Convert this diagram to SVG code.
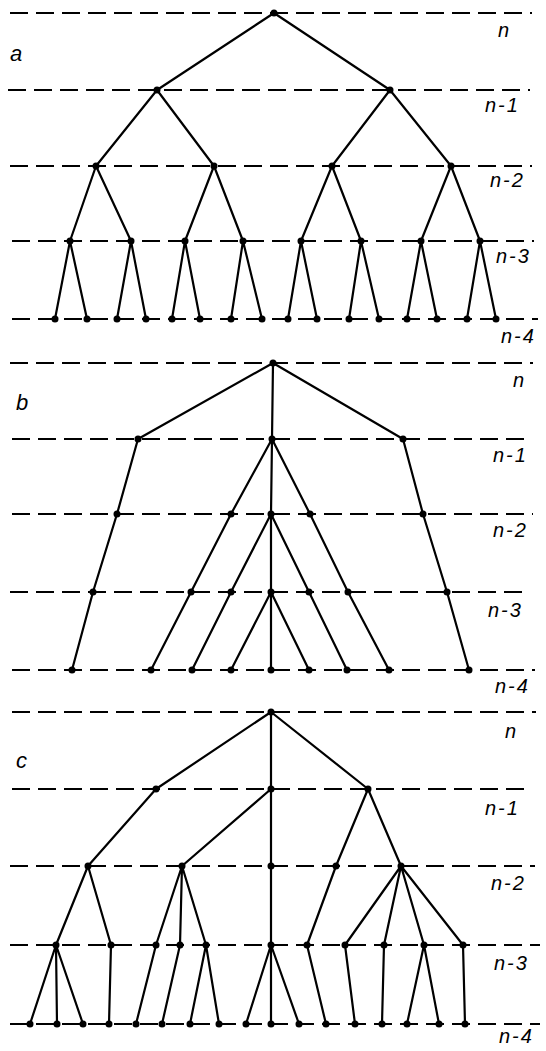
<svg xmlns="http://www.w3.org/2000/svg" width="546" height="1051" viewBox="0 0 546 1051">
<style>
.lvl{stroke:#000;stroke-width:1.8;stroke-dasharray:18 8;fill:none}
.e{stroke:#000;stroke-width:2.2;fill:none;stroke-linecap:round}
.lb{font-family:"Liberation Sans",Arial,sans-serif;font-style:italic;font-size:20px;letter-spacing:2px;fill:#000}
.pl{font-family:"Liberation Sans",Arial,sans-serif;font-style:italic;font-size:22px;fill:#000}
</style>
<defs><circle id="dot" r="3.5"/></defs>
<rect width="546" height="1051" fill="#fff"/>
<g id="levels">
<line class="lvl" x1="10" y1="13" x2="532" y2="13"/>
<line class="lvl" x1="8" y1="90" x2="530" y2="90"/>
<line class="lvl" x1="10" y1="166" x2="532" y2="166"/>
<line class="lvl" x1="12" y1="241" x2="534" y2="241"/>
<line class="lvl" x1="12" y1="319" x2="538" y2="319"/>
<line class="lvl" x1="10" y1="363" x2="533" y2="363"/>
<line class="lvl" x1="12" y1="439" x2="532" y2="439"/>
<line class="lvl" x1="12" y1="514" x2="533" y2="514"/>
<line class="lvl" x1="10" y1="592" x2="530" y2="592"/>
<line class="lvl" x1="12" y1="670" x2="535" y2="670"/>
<line class="lvl" x1="12" y1="712" x2="536" y2="712"/>
<line class="lvl" x1="12" y1="789" x2="531" y2="789"/>
<line class="lvl" x1="10" y1="866" x2="535" y2="866"/>
<line class="lvl" x1="10" y1="945" x2="540" y2="945"/>
<line class="lvl" x1="10" y1="1024" x2="540" y2="1024"/>
</g>
<g id="labels">
<text class="pl" x="10" y="61">a</text>
<text class="lb" x="498" y="37">n</text>
<text class="lb" x="485" y="112">n-1</text>
<text class="lb" x="490" y="187">n-2</text>
<text class="lb" x="496" y="263">n-3</text>
<text class="lb" x="501" y="343">n-4</text>
<text class="pl" x="16" y="410">b</text>
<text class="lb" x="513" y="387">n</text>
<text class="lb" x="493" y="462">n-1</text>
<text class="lb" x="493" y="537">n-2</text>
<text class="lb" x="488" y="617">n-3</text>
<text class="lb" x="495" y="693">n-4</text>
<text class="pl" x="16" y="768">c</text>
<text class="lb" x="505" y="738">n</text>
<text class="lb" x="485" y="815">n-1</text>
<text class="lb" x="491" y="890">n-2</text>
<text class="lb" x="494" y="970">n-3</text>
<text class="lb" x="499" y="1043">n-4</text>
</g>
<g id="connectors">
<path class="e" d="M274 13L157 90M274 13L390 90
M157 90L96 166M157 90L214 166M390 90L332 166M390 90L451 166
M96 166L70 241M96 166L131 241M214 166L185 241M214 166L243 241M332 166L301 241M332 166L361 241M451 166L421 241M451 166L480 241
M70 241L55 319M70 241L87 319M131 241L117 319M131 241L146 319M185 241L172 319M185 241L200 319M243 241L231 319M243 241L262 319
M301 241L288 319M301 241L317 319M361 241L349 319M361 241L379 319M421 241L407 319M421 241L437 319M480 241L467 319M480 241L496 319"/>
<path class="e" d="M273 363L138 439M273 363L272 439M273 363L403 439
M138 439L117 514L93 592L72 670
M403 439L423 514L447 592L469 670
M272 439L231 514L191 592L151 670
M272 439L310 514L348 592L389 670
M272 439L271 514L271 592L271 670
M271 514L231 592L192 670
M271 514L309 592L347 670
M271 592L231 670M271 592L309 670"/>
<path class="e" d="M271 712L156 789M271 712L271 789M271 712L368 789
M156 789L88 866M271 789L182 866M271 789L271 866M368 789L336 866M368 789L401 866
M88 866L56 945M88 866L111 945
M56 945L30 1024M56 945L57 1024M56 945L83 1024M111 945L109 1024
M182 866L156 945M182 866L180 945M182 866L206 945
M156 945L136 1024M180 945L162 1024M206 945L190 1024M206 945L219 1024
M271 866L271 945M271 945L246 1024M271 945L271 1024M271 945L299 1024
M336 866L307 945M307 945L326 1024
M401 866L345 945M401 866L384 945M401 866L424 945M401 866L463 945
M345 945L355 1024M384 945L382 1024M424 945L407 1024M424 945L439 1024M463 945L465 1024"/>
</g>
<g id="nodes">
<g id="a-0"><use href="#dot" x="274" y="13"/></g>
<g id="a-1-1"><use href="#dot" x="157" y="90"/></g>
<g id="a-1-2"><use href="#dot" x="390" y="90"/></g>
<g id="a-2-1"><use href="#dot" x="96" y="166"/></g>
<g id="a-2-2"><use href="#dot" x="214" y="166"/></g>
<g id="a-2-3"><use href="#dot" x="332" y="166"/></g>
<g id="a-2-4"><use href="#dot" x="451" y="166"/></g>
<g id="a-3-1"><use href="#dot" x="70" y="241"/></g>
<g id="a-3-2"><use href="#dot" x="131" y="241"/></g>
<g id="a-3-3"><use href="#dot" x="185" y="241"/></g>
<g id="a-3-4"><use href="#dot" x="243" y="241"/></g>
<g id="a-3-5"><use href="#dot" x="301" y="241"/></g>
<g id="a-3-6"><use href="#dot" x="361" y="241"/></g>
<g id="a-3-7"><use href="#dot" x="421" y="241"/></g>
<g id="a-3-8"><use href="#dot" x="480" y="241"/></g>
<g id="a-4-1"><use href="#dot" x="55" y="319"/></g>
<g id="a-4-2"><use href="#dot" x="87" y="319"/></g>
<g id="a-4-3"><use href="#dot" x="117" y="319"/></g>
<g id="a-4-4"><use href="#dot" x="146" y="319"/></g>
<g id="a-4-5"><use href="#dot" x="172" y="319"/></g>
<g id="a-4-6"><use href="#dot" x="200" y="319"/></g>
<g id="a-4-7"><use href="#dot" x="231" y="319"/></g>
<g id="a-4-8"><use href="#dot" x="262" y="319"/></g>
<g id="a-4-9"><use href="#dot" x="288" y="319"/></g>
<g id="a-4-10"><use href="#dot" x="317" y="319"/></g>
<g id="a-4-11"><use href="#dot" x="349" y="319"/></g>
<g id="a-4-12"><use href="#dot" x="379" y="319"/></g>
<g id="a-4-13"><use href="#dot" x="407" y="319"/></g>
<g id="a-4-14"><use href="#dot" x="437" y="319"/></g>
<g id="a-4-15"><use href="#dot" x="467" y="319"/></g>
<g id="a-4-16"><use href="#dot" x="496" y="319"/></g>

<g id="b-0"><use href="#dot" x="273" y="363"/></g>
<g id="b-1-1"><use href="#dot" x="138" y="439"/></g>
<g id="b-1-2"><use href="#dot" x="272" y="439"/></g>
<g id="b-1-3"><use href="#dot" x="403" y="439"/></g>
<g id="b-2-1"><use href="#dot" x="117" y="514"/></g>
<g id="b-2-2"><use href="#dot" x="231" y="514"/></g>
<g id="b-2-3"><use href="#dot" x="271" y="514"/></g>
<g id="b-2-4"><use href="#dot" x="310" y="514"/></g>
<g id="b-2-5"><use href="#dot" x="423" y="514"/></g>
<g id="b-3-1"><use href="#dot" x="93" y="592"/></g>
<g id="b-3-2"><use href="#dot" x="191" y="592"/></g>
<g id="b-3-3"><use href="#dot" x="231" y="592"/></g>
<g id="b-3-4"><use href="#dot" x="271" y="592"/></g>
<g id="b-3-5"><use href="#dot" x="309" y="592"/></g>
<g id="b-3-6"><use href="#dot" x="348" y="592"/></g>
<g id="b-3-7"><use href="#dot" x="447" y="592"/></g>
<g id="b-4-1"><use href="#dot" x="72" y="670"/></g>
<g id="b-4-2"><use href="#dot" x="151" y="670"/></g>
<g id="b-4-3"><use href="#dot" x="192" y="670"/></g>
<g id="b-4-4"><use href="#dot" x="231" y="670"/></g>
<g id="b-4-5"><use href="#dot" x="271" y="670"/></g>
<g id="b-4-6"><use href="#dot" x="309" y="670"/></g>
<g id="b-4-7"><use href="#dot" x="347" y="670"/></g>
<g id="b-4-8"><use href="#dot" x="389" y="670"/></g>
<g id="b-4-9"><use href="#dot" x="469" y="670"/></g>

<g id="c-0"><use href="#dot" x="271" y="712"/></g>
<g id="c-1-1"><use href="#dot" x="156" y="789"/></g>
<g id="c-1-2"><use href="#dot" x="271" y="789"/></g>
<g id="c-1-3"><use href="#dot" x="368" y="789"/></g>
<g id="c-2-1"><use href="#dot" x="88" y="866"/></g>
<g id="c-2-2"><use href="#dot" x="182" y="866"/></g>
<g id="c-2-3"><use href="#dot" x="271" y="866"/></g>
<g id="c-2-4"><use href="#dot" x="336" y="866"/></g>
<g id="c-2-5"><use href="#dot" x="401" y="866"/></g>
<g id="c-3-1"><use href="#dot" x="56" y="945"/></g>
<g id="c-3-2"><use href="#dot" x="111" y="945"/></g>
<g id="c-3-3"><use href="#dot" x="156" y="945"/></g>
<g id="c-3-4"><use href="#dot" x="180" y="945"/></g>
<g id="c-3-5"><use href="#dot" x="206" y="945"/></g>
<g id="c-3-6"><use href="#dot" x="271" y="945"/></g>
<g id="c-3-7"><use href="#dot" x="307" y="945"/></g>
<g id="c-3-8"><use href="#dot" x="345" y="945"/></g>
<g id="c-3-9"><use href="#dot" x="384" y="945"/></g>
<g id="c-3-10"><use href="#dot" x="424" y="945"/></g>
<g id="c-3-11"><use href="#dot" x="463" y="945"/></g>
<g id="c-4-1"><use href="#dot" x="30" y="1024"/></g>
<g id="c-4-2"><use href="#dot" x="57" y="1024"/></g>
<g id="c-4-3"><use href="#dot" x="83" y="1024"/></g>
<g id="c-4-4"><use href="#dot" x="109" y="1024"/></g>
<g id="c-4-5"><use href="#dot" x="136" y="1024"/></g>
<g id="c-4-6"><use href="#dot" x="162" y="1024"/></g>
<g id="c-4-7"><use href="#dot" x="190" y="1024"/></g>
<g id="c-4-8"><use href="#dot" x="219" y="1024"/></g>
<g id="c-4-9"><use href="#dot" x="246" y="1024"/></g>
<g id="c-4-10"><use href="#dot" x="271" y="1024"/></g>
<g id="c-4-11"><use href="#dot" x="299" y="1024"/></g>
<g id="c-4-12"><use href="#dot" x="326" y="1024"/></g>
<g id="c-4-13"><use href="#dot" x="355" y="1024"/></g>
<g id="c-4-14"><use href="#dot" x="382" y="1024"/></g>
<g id="c-4-15"><use href="#dot" x="407" y="1024"/></g>
<g id="c-4-16"><use href="#dot" x="439" y="1024"/></g>
<g id="c-4-17"><use href="#dot" x="465" y="1024"/></g>
</g>
</svg>
